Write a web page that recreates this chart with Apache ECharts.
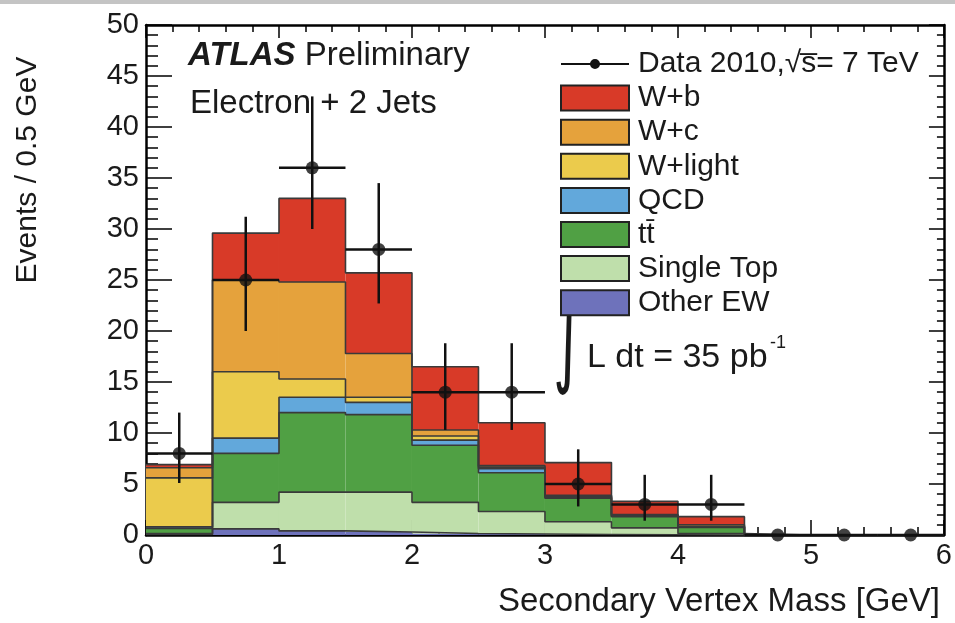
<!DOCTYPE html>
<html>
<head>
<meta charset="utf-8">
<title>Secondary Vertex Mass</title>
<script src="https://cdn.jsdelivr.net/npm/echarts@6/dist/echarts.min.js"></script>
<style>
html, body { margin: 0; padding: 0; background: #fff; }
#chart { width: 955px; height: 623px; }
</style>
</head>
<body>
<div id="chart"></div>
<script>
// bin centres in GeV, bins are 0.5 GeV wide
var massBins = [0.25, 0.75, 1.25, 1.75, 2.25, 2.75, 3.25, 3.75, 4.25, 4.75, 5.25, 5.75];
var binHalf = 0.25;

// stacked expectations, bottom of the stack first
var otherEW   = [0.05, 0.6, 0.4, 0.3, 0.15, 0.1, 0.05, 0.02, 0, 0, 0, 0];
var singleTop = [0.1, 2.6, 3.8, 3.9, 3.05, 2.2, 1.25, 0.68, 0.15, 0, 0, 0];
var ttbar     = [0.5, 4.8, 7.8, 7.6, 5.6, 3.8, 2.3, 1.1, 0.6, 0, 0, 0];
var qcd       = [0.15, 1.5, 1.5, 1.2, 0.5, 0.4, 0.1, 0.05, 0.05, 0, 0, 0];
var wLight    = [4.8, 6.5, 1.8, 0.5, 0.4, 0.15, 0.1, 0.05, 0.05, 0, 0, 0];
var wCharm    = [1.0, 9.0, 9.5, 4.3, 0.6, 0.15, 0.1, 0.1, 0.15, 0, 0, 0];
var wBottom   = [0.3, 4.6, 8.2, 7.9, 6.2, 4.2, 3.2, 1.3, 0.8, 0, 0, 0];

// data points with asymmetric (poisson) errors
var dataCounts = [8, 25, 36, 28, 14, 14, 5, 3, 3, 0, 0, 0];
var dataHigh   = [12, 31.2, 43, 34.5, 18.8, 18.8, 8.4, 5.9, 5.9, 0, 0, 0];
var dataLow    = [5.1, 20, 30, 22.7, 10.3, 10.3, 2.8, 1.4, 1.4, 0, 0, 0];

var layerNames = ['Other EW', 'Single Top', 'tt\u0304', 'QCD', 'W+light', 'W+c', 'W+b'];
var layerColors = ['#6e72bb', '#bfdfab', '#50a044', '#62a8db', '#ebcb4c', '#e5a23c', '#d83a28'];
var dataName = 'Data 2010,\u221As\u0305= 7 TeV';

var FONT = '"Liberation Sans", Arial, Helvetica, sans-serif';
var TXT = '#1a1a1a';

function renderBlock(params, api)
{
    var lo = api.value(1), hi = api.value(2);
    if (hi - lo <= 0)
        return null;
    var p0 = api.coord([api.value(0) - binHalf, hi]);
    var p1 = api.coord([api.value(0) + binHalf, lo]);
    return {
        type: 'rect',
        shape: {x: p0[0], y: p0[1], width: p1[0] - p0[0], height: p1[1] - p0[1]},
        style: {fill: api.visual('color')}
    };
}

function renderErrorBar(params, api)
{
    var x = api.value(0);
    var lo = api.coord([x, api.value(2)]);
    var hi = api.coord([x, api.value(3)]);
    var left = api.coord([x - binHalf, api.value(1)]);
    var right = api.coord([x + binHalf, api.value(1)]);
    var st = {stroke: '#111', lineWidth: 2.5};
    return {
        type: 'group',
        children: [
            {type: 'line', shape: {x1: lo[0], y1: lo[1], x2: hi[0], y2: hi[1]}, style: st},
            {type: 'line', shape: {x1: left[0], y1: left[1], x2: right[0], y2: right[1]}, style: st}
        ]
    };
}

var layers = [otherEW, singleTop, ttbar, qcd, wLight, wCharm, wBottom];
var series = [];
var cum = massBins.map(function () { return 0; });

for (var k = 0; k < layers.length; k++)
{
    var blocks = [];
    var edge = [];
    for (var i = 0; i < massBins.length; i++)
    {
        var base = cum[i];
        cum[i] = base + layers[k][i];
        blocks.push([massBins[i], base, cum[i]]);
        edge.push([massBins[i] - binHalf, cum[i]]);
    }
    var last = massBins.length - 1;
    edge.push([massBins[last] + binHalf, cum[last]]);

    series.push({
        type: 'custom',
        name: layerNames[k],
        renderItem: renderBlock,
        itemStyle: {color: layerColors[k]},
        data: blocks,
        z: 2
    });
    // outline of the cumulative histogram
    series.push({
        type: 'line',
        name: layerNames[k] + ' outline',
        step: 'end',
        symbol: 'none',
        silent: true,
        lineStyle: {color: '#3a3a3a', width: 1.6},
        data: edge,
        z: 3
    });
}

var errData = [];
var dotData = [];
for (var i = 0; i < massBins.length; i++)
{
    errData.push([massBins[i], dataCounts[i], dataLow[i], dataHigh[i]]);
    dotData.push([massBins[i], dataCounts[i]]);
}

series.push({
    type: 'custom',
    name: dataName,
    renderItem: renderErrorBar,
    itemStyle: {color: '#111'},
    data: errData,
    z: 5
});
series.push({
    type: 'scatter',
    name: dataName,
    symbol: 'circle',
    symbolSize: 13,
    clip: false,
    itemStyle: {color: '#111'},
    data: dotData,
    z: 6
});

var myChart = echarts.init(document.getElementById('chart'));

var option = {
    animation: false,
    backgroundColor: '#fff',
    grid: {left: 146, top: 25, width: 798, height: 510},
    legend: {
        orient: 'vertical',
        left: 555,
        top: 44,
        itemWidth: 68,
        itemHeight: 25,
        itemGap: 4.1,
        icon: 'rect',
        selectedMode: false,
        itemStyle: {borderColor: '#222', borderWidth: 2},
        textStyle: {fontFamily: FONT, fontSize: 30, color: TXT, lineHeight: 25, padding: [0, 0, 0, 4]},
        data: [
            {
                name: dataName,
                icon: 'path://M0,9 L68,9 L68,11 L0,11 Z M29,10 A5,5 0 1,1 39,10 A5,5 0 1,1 29,10 Z',
                itemStyle: {color: '#111', borderWidth: 0}
            },
            'W+b', 'W+c', 'W+light', 'QCD', 'tt\u0304', 'Single Top', 'Other EW'
        ]
    },
    xAxis: [
        {
            type: 'value', min: 0, max: 6, interval: 1, position: 'bottom',
            axisLine: {show: true, onZero: false, lineStyle: {color: '#000', width: 2.5}},
            axisTick: {show: true, inside: true, length: 15, lineStyle: {color: '#000', width: 1.5}},
            minorTick: {show: true, splitNumber: 5, length: 8, lineStyle: {color: '#000', width: 1.5}},
            axisLabel: {fontFamily: FONT, fontSize: 29, color: TXT, margin: 6},
            splitLine: {show: false}
        },
        {
            type: 'value', min: 0, max: 6, interval: 1, position: 'top',
            axisLine: {show: true, onZero: false, lineStyle: {color: '#000', width: 2.5}},
            axisTick: {show: true, inside: true, length: 13, lineStyle: {color: '#000', width: 1.5}},
            minorTick: {show: true, splitNumber: 5, length: 7, lineStyle: {color: '#000', width: 1.5}},
            axisLabel: {show: false},
            splitLine: {show: false}
        }
    ],
    yAxis: [
        {
            type: 'value', min: 0, max: 50, interval: 5, position: 'left',
            axisLine: {show: true, onZero: false, lineStyle: {color: '#000', width: 2.5}},
            axisTick: {show: true, inside: true, length: 26, lineStyle: {color: '#000', width: 1.5}},
            minorTick: {show: true, splitNumber: 5, length: 12, lineStyle: {color: '#000', width: 1.5}},
            axisLabel: {fontFamily: FONT, fontSize: 29, color: TXT, margin: 7, padding: [4, 0, 0, 0]},
            splitLine: {show: false}
        },
        {
            type: 'value', min: 0, max: 50, interval: 5, position: 'right',
            axisLine: {show: true, onZero: false, lineStyle: {color: '#000', width: 2.5}},
            axisTick: {show: true, inside: true, length: 15, lineStyle: {color: '#000', width: 1.5}},
            minorTick: {show: true, splitNumber: 5, length: 7, lineStyle: {color: '#000', width: 1.5}},
            axisLabel: {show: false},
            splitLine: {show: false}
        }
    ],
    graphic: [
        {type: 'rect', left: 0, top: 0, shape: {width: 955, height: 4}, style: {fill: '#c4c4c4'}, silent: true},
        {
            type: 'text', x: 188, y: 56,
            style: {
                text: '{a|ATLAS} Preliminary',
                fontFamily: FONT, fontSize: 33, fill: TXT, verticalAlign: 'middle',
                rich: {a: {fontFamily: FONT, fontSize: 33, fontWeight: 'bold', fontStyle: 'italic', fill: TXT}}
            }
        },
        {
            type: 'text', x: 190, y: 104,
            style: {text: 'Electron + 2 Jets', fontFamily: FONT, fontSize: 33, fill: TXT, verticalAlign: 'middle'}
        },
        {
            type: 'text', x: 553, y: 348, scaleY: 1.7,
            style: {text: '\u222B', fontFamily: '"DejaVu Sans", sans-serif', fontSize: 58, fill: TXT, verticalAlign: 'middle'}
        },
        {
            type: 'text', x: 587, y: 358,
            style: {text: 'L dt = 35 pb', fontFamily: FONT, fontSize: 34, fill: TXT, verticalAlign: 'middle'}
        },
        {
            type: 'text', x: 770, y: 343,
            style: {text: '-1', fontFamily: FONT, fontSize: 18, fill: TXT, verticalAlign: 'middle'}
        },
        {
            type: 'text', x: 940, y: 602,
            style: {text: 'Secondary Vertex Mass [GeV]', fontFamily: FONT, fontSize: 33, fill: TXT, align: 'right', verticalAlign: 'middle'}
        },
        {
            type: 'text', x: 28, y: 170, rotation: Math.PI / 2,
            style: {text: 'Events / 0.5 GeV', fontFamily: FONT, fontSize: 30, fill: TXT, align: 'center', verticalAlign: 'middle'}
        }
    ],
    series: series
};

myChart.setOption(option);
</script>
</body>
</html>
